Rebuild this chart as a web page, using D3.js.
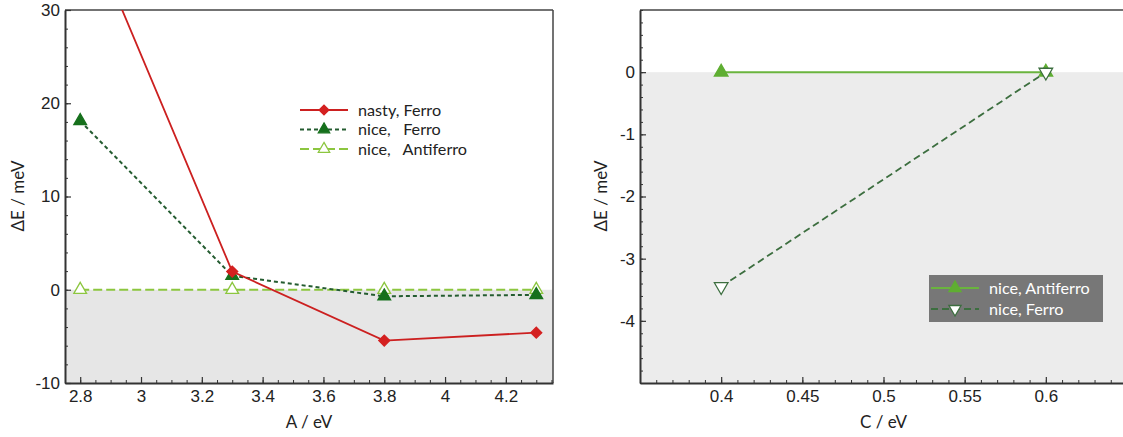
<!DOCTYPE html>
<html>
<head>
<meta charset="utf-8">
<script src="https://cdn.jsdelivr.net/npm/d3@7"></script>
<style>
  body { margin: 0; background: #fff; }
  svg { display: block; font-family: Lato, "Open Sans", sans-serif; }
  .tick text { font-size: 17px; fill: #222; }
</style>
</head>
<body>
<div id="vis"></div>
<script>
const WIDTH = 1123
const HEIGHT = 437

// left panel: A / eV
const aValues = [2.8, 3.3, 3.8, 4.3]
const nastyFerroA = [40.7, 1.95, -5.45, -4.6]
const niceFerroA = [18.1, 1.5, -0.7, -0.55]
const niceAntiferroA = [0, 0, 0, 0]
const aTicks = [2.8, 3, 3.2, 3.4, 3.6, 3.8, 4, 4.2]
const leftYTicks = [-10, 0, 10, 20, 30]

// right panel: C / eV
const cValues = [0.4, 0.6]
const niceAntiferroC = [0, 0]
const niceFerroC = [-3.45, 0]
const cTicks = [0.4, 0.45, 0.5, 0.55, 0.6]
const rightYTicks = [-4, -3, -2, -1, 0]

const svg = d3.select('#vis').append('svg')
  .attr('width', WIDTH)
  .attr('height', HEIGHT)

// plain hyphen for negatives, like the original
const fmt = d => String(d)

function panel(opts) {
  const x = d3.scaleLinear().domain(opts.xDomain).range(opts.xRange)
  const y = d3.scaleLinear().domain(opts.yDomain).range([383, 10])
  const g = svg.append('g')
  const [x0, x1] = opts.xRange

  // negative region shading
  g.append('rect')
    .attr('x', x0).attr('y', y(0))
    .attr('width', x1 - x0).attr('height', y(opts.yDomain[0]) - y(0))
    .attr('fill', opts.shade)

  // frame top / right
  g.append('line').attr('x1', x0).attr('x2', x1).attr('y1', 10).attr('y2', 10)
    .attr('stroke', '#444').attr('stroke-width', 1.5)
  g.append('line').attr('x1', x1).attr('x2', x1).attr('y1', 10).attr('y2', 383)
    .attr('stroke', '#444').attr('stroke-width', 1.5)

  // minor ticks
  g.append('g').attr('transform', 'translate(0,383)')
    .call(d3.axisBottom(x).tickValues(opts.xMinor).tickSize(-3).tickFormat(''))
    .call(s => s.select('.domain').remove())
    .selectAll('line').attr('stroke', '#333')
  g.append('g').attr('transform', `translate(${x0},0)`)
    .call(d3.axisLeft(y).tickValues(opts.yMinor).tickSize(-3).tickFormat(''))
    .call(s => s.select('.domain').remove())
    .selectAll('line').attr('stroke', '#333')

  // major axes
  const xAxis = g.append('g').attr('transform', 'translate(0,383)')
    .call(d3.axisBottom(x).tickValues(opts.xTicks).tickSizeInner(-6).tickSizeOuter(0)
      .tickPadding(7).tickFormat(fmt))
  xAxis.select('.domain').attr('stroke', '#333').attr('stroke-width', 2)
  xAxis.selectAll('.tick line').attr('stroke', '#333').attr('stroke-width', 1.2)

  const yAxis = g.append('g').attr('transform', `translate(${x0},0)`)
    .call(d3.axisLeft(y).tickValues(opts.yTicks).tickSizeInner(-6).tickSizeOuter(0)
      .tickPadding(5).tickFormat(fmt))
  yAxis.select('.domain').attr('stroke', '#333').attr('stroke-width', 2)
  yAxis.selectAll('.tick line').attr('stroke', '#333').attr('stroke-width', 1.2)

  // axis titles
  g.append('text')
    .attr('x', (x0 + x1) / 2).attr('y', 428)
    .attr('text-anchor', 'middle').attr('font-size', 17).attr('fill', '#222')
    .text(opts.xLabel)
  g.append('text')
    .attr('transform', `translate(${opts.yLabelX},196) rotate(-90)`)
    .attr('text-anchor', 'middle').attr('font-size', 17).attr('fill', '#222')
    .text('ΔE / meV')

  // clipped plot layer
  const clipId = 'clip' + opts.id
  g.append('clipPath').attr('id', clipId)
    .append('rect').attr('x', x0).attr('y', 10).attr('width', x1 - x0).attr('height', 373)
  const plot = g.append('g').attr('clip-path', `url(#${clipId})`)

  return { x, y, plot, g }
}

function markerTransform(s) {
  if (s.rotate) return ' rotate(' + s.rotate + ')'
  return ''
}

function drawSeries(p, xs, ys, s) {
  const pts = xs.map((d, i) => [d, ys[i]])
  const line = d3.line().x(d => p.x(d[0])).y(d => p.y(d[1]))
  p.plot.append('path')
    .datum(pts)
    .attr('d', line)
    .attr('fill', 'none')
    .attr('stroke', s.color)
    .attr('stroke-width', s.width)
    .attr('stroke-dasharray', s.dash)
  p.plot.selectAll(null)
    .data(pts)
    .enter()
    .append('path')
    .attr('d', d3.symbol().type(s.symbol).size(s.size))
    .attr('transform', d => `translate(${p.x(d[0])},${p.y(d[1])})` + markerTransform(s))
    .attr('fill', s.fill)
    .attr('stroke', s.markerStroke)
    .attr('stroke-width', 1.3)
}

function legendEntry(g, x, y, s, label, textColor) {
  g.append('line')
    .attr('x1', x).attr('x2', x + 48).attr('y1', y).attr('y2', y)
    .attr('stroke', s.color).attr('stroke-width', s.width)
    .attr('stroke-dasharray', s.dash)
  g.append('path')
    .attr('d', d3.symbol().type(s.symbol).size(s.size * 0.8))
    .attr('transform', `translate(${x + 24},${y})` + markerTransform(s))
    .attr('fill', s.fill).attr('stroke', s.markerStroke).attr('stroke-width', 1.3)
  g.append('text')
    .attr('x', x + 58).attr('y', y).attr('dy', '0.35em')
    .attr('font-size', 16.2).attr('fill', textColor)
    .style('white-space', 'pre')
    .text(label)
}

// ---- left panel
const left = panel({
  id: 'L',
  xDomain: [2.75, 4.355], xRange: [65, 553],
  yDomain: [-10, 30],
  xTicks: aTicks, yTicks: leftYTicks,
  xMinor: d3.range(2.75, 4.36, 0.05), yMinor: d3.range(-10, 31, 2),
  shade: '#e6e6e6', xLabel: 'A / eV', yLabelX: 24
})

const nastyStyle = { color: '#cc2020', width: 1.8, dash: null, symbol: d3.symbolSquare, size: 60, rotate: 45, fill: '#d42020', markerStroke: '#d42020' }
const niceFerroStyle = { color: '#245c30', width: 2, dash: '4,3', symbol: d3.symbolTriangle, size: 70, fill: '#16701c', markerStroke: '#16701c' }
const niceAntiStyle = { color: '#8cc63f', width: 2, dash: '9,4', symbol: d3.symbolTriangle, size: 70, fill: '#fff', markerStroke: '#8cc63f' }

drawSeries(left, aValues, niceAntiferroA, niceAntiStyle)
drawSeries(left, aValues, niceFerroA, niceFerroStyle)
drawSeries(left, aValues, nastyFerroA, nastyStyle)

const legL = svg.append('g')
legendEntry(legL, 300, 110, nastyStyle, 'nasty, Ferro', '#222')
legendEntry(legL, 300, 129.5, niceFerroStyle, 'nice,   Ferro', '#222')
legendEntry(legL, 300, 149, niceAntiStyle, 'nice,   Antiferro', '#222')

// ---- right panel
const right = panel({
  id: 'R',
  xDomain: [0.35, 0.65], xRange: [640, 1127],
  yDomain: [-5, 1],
  xTicks: cTicks, yTicks: rightYTicks,
  xMinor: d3.range(0.35, 0.651, 0.01), yMinor: d3.range(-5, 1.01, 0.2),
  shade: '#ececec', xLabel: 'C / eV', yLabelX: 607
})

const antiCStyle = { color: '#6ab43e', width: 2, dash: null, symbol: d3.symbolTriangle, size: 80, fill: '#5fae32', markerStroke: '#5fae32' }
const ferroCStyle = { color: '#3c6e3f', width: 1.8, dash: '7,4', symbol: d3.symbolTriangle, size: 80, fill: '#fff', markerStroke: '#3c6e3f', rotate: 180 }

drawSeries(right, cValues, niceAntiferroC, antiCStyle)
drawSeries(right, cValues, niceFerroC, ferroCStyle)

const legR = svg.append('g')
legR.append('rect')
  .attr('x', 929).attr('y', 275).attr('width', 174).attr('height', 47)
  .attr('fill', '#777')
legendEntry(legR, 931, 288, antiCStyle, 'nice, Antiferro', '#fff')
legendEntry(legR, 931, 309, ferroCStyle, 'nice, Ferro', '#fff')
</script>
</body>
</html>
